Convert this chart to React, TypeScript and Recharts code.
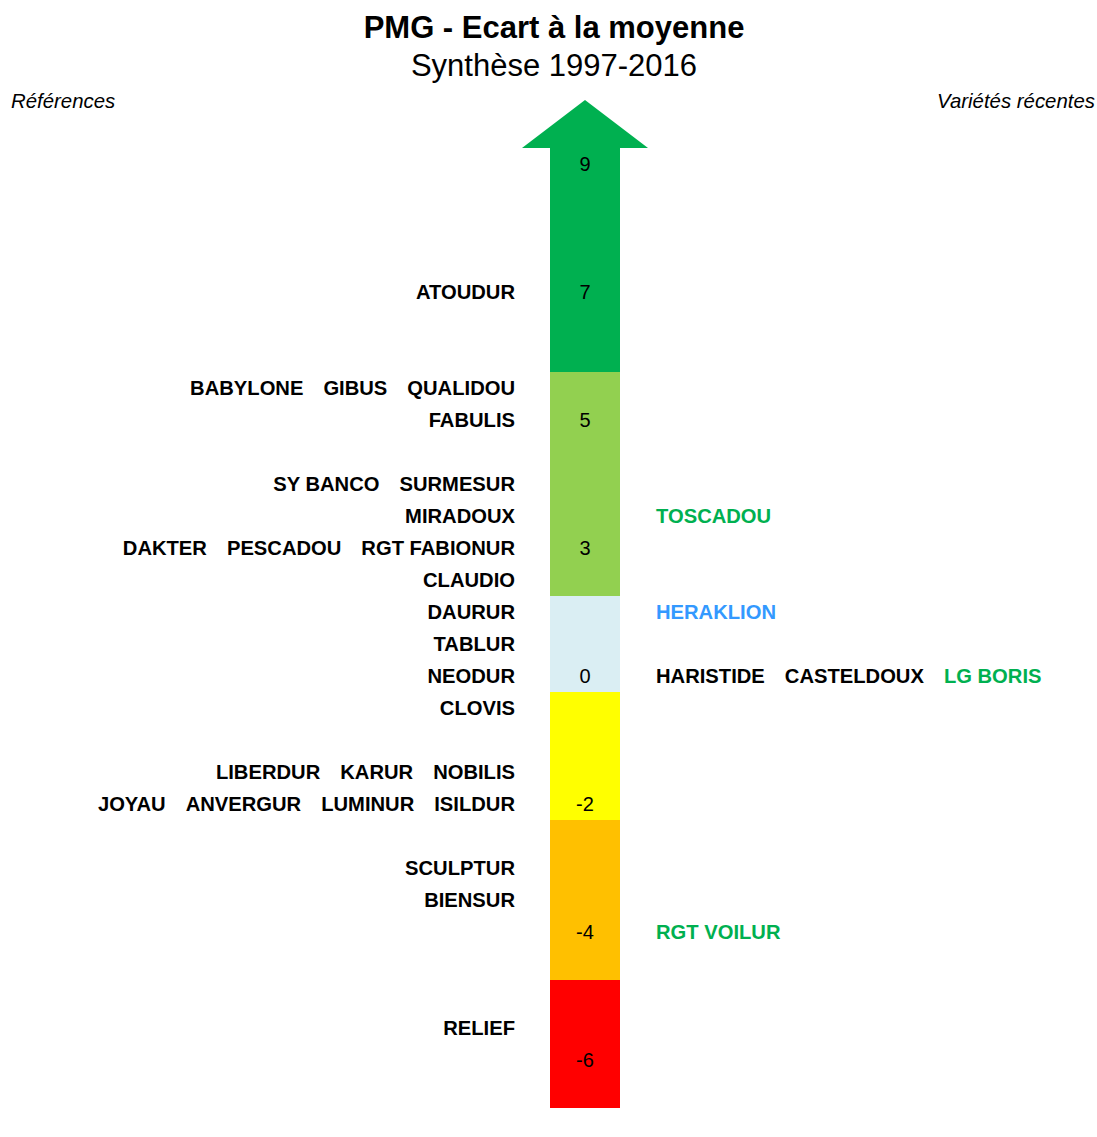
import { ComposedChart, XAxis, YAxis, ReferenceArea, ReferenceDot } from "recharts";

// rows on the scale: 0 = "0" line, one row per step of the table
const bands = [
  { from: 9.5, to: 16.5, color: "#00B050" },
  { from: 2.5, to: 9.5, color: "#92D050" },
  { from: -0.5, to: 2.5, color: "#DAEEF3" },
  { from: -4.5, to: -0.5, color: "#FFFF00" },
  { from: -9.5, to: -4.5, color: "#FFC000" },
  { from: -13.5, to: -9.5, color: "#FF0000" },
];
const arrowHead = { from: 16.5, to: 18, color: "#00B050" };

const scaleTicks = [
  { label: "9", row: 16 },
  { label: "7", row: 12 },
  { label: "5", row: 8 },
  { label: "3", row: 4 },
  { label: "0", row: 0 },
  { label: "-2", row: -4 },
  { label: "-4", row: -8 },
  { label: "-6", row: -12 },
];

const references = [
  { row: 12, names: ["ATOUDUR"] },
  { row: 9, names: ["BABYLONE", "GIBUS", "QUALIDOU"] },
  { row: 8, names: ["FABULIS"] },
  { row: 6, names: ["SY BANCO", "SURMESUR"] },
  { row: 5, names: ["MIRADOUX"] },
  { row: 4, names: ["DAKTER", "PESCADOU", "RGT FABIONUR"] },
  { row: 3, names: ["CLAUDIO"] },
  { row: 2, names: ["DAURUR"] },
  { row: 1, names: ["TABLUR"] },
  { row: 0, names: ["NEODUR"] },
  { row: -1, names: ["CLOVIS"] },
  { row: -3, names: ["LIBERDUR", "KARUR", "NOBILIS"] },
  { row: -4, names: ["JOYAU", "ANVERGUR", "LUMINUR", "ISILDUR"] },
  { row: -6, names: ["SCULPTUR"] },
  { row: -7, names: ["BIENSUR"] },
  { row: -11, names: ["RELIEF"] },
];

const BLACK = "#000000";
const GREEN = "#00B050";
const BLUE = "#3399FF";

const recent = [
  { row: 5, names: [{ name: "TOSCADOU", color: GREEN }] },
  { row: 2, names: [{ name: "HERAKLION", color: BLUE }] },
  {
    row: 0,
    names: [
      { name: "HARISTIDE", color: BLACK },
      { name: "CASTELDOUX", color: BLACK },
      { name: "LG BORIS", color: GREEN },
    ],
  },
  { row: -8, names: [{ name: "RGT VOILUR", color: GREEN }] },
];

const W = 1097;
const H = 1137;
const SHAFT_X1 = 550;
const SHAFT_X2 = 620;
const HEAD_X1 = 522;
const HEAD_X2 = 648;
const CENTER_X = 585;
const LEFT_X = 515;
const RIGHT_X = 656;
const GAP = 20;
const LABEL_SIZE = 20.2;
const FONT = "'Liberation Sans', Arial, sans-serif";

export default function App() {
  return (
    <div style={{ position: "absolute", left: 0, top: 0, width: W, height: H, fontFamily: FONT }}>
      <div style={{ position: "absolute", left: 554, top: 10, transform: "translateX(-50%)", fontSize: 31, fontWeight: "bold", whiteSpace: "nowrap", lineHeight: "36px" }}>
        PMG - Ecart à la moyenne
      </div>
      <div style={{ position: "absolute", left: 554, top: 48, transform: "translateX(-50%)", fontSize: 31, whiteSpace: "nowrap", lineHeight: "36px" }}>
        Synthèse 1997-2016
      </div>
      <div style={{ position: "absolute", left: 11, top: 88, fontSize: 20.4, fontStyle: "italic", whiteSpace: "nowrap", lineHeight: "26px" }}>
        Références
      </div>
      <div style={{ position: "absolute", right: 2, top: 88, fontSize: 20.4, fontStyle: "italic", whiteSpace: "nowrap", lineHeight: "26px" }}>
        Variétés récentes
      </div>
      <ComposedChart width={W} height={H} margin={{ top: 4, right: 0, bottom: 13, left: 0 }} data={[]}>
        <XAxis type="number" dataKey="x" domain={[0, W]} hide allowDataOverflow />
        <YAxis type="number" dataKey="y" domain={[-14, 21]} hide allowDataOverflow />
        {bands.map((b, i) => (
          <ReferenceArea key={i} x1={SHAFT_X1} x2={SHAFT_X2} y1={b.from} y2={b.to} fill={b.color} fillOpacity={1} stroke="none" />
        ))}
        <ReferenceArea
          x1={HEAD_X1}
          x2={HEAD_X2}
          y1={arrowHead.from}
          y2={arrowHead.to}
          fill={arrowHead.color}
          fillOpacity={1}
          stroke="none"
          shape={(p: any) => (
            <polygon
              points={`${p.x + p.width / 2},${p.y} ${p.x},${p.y + p.height} ${p.x + p.width},${p.y + p.height}`}
              fill={arrowHead.color}
            />
          )}
        />
        {scaleTicks.map((t) => (
          <ReferenceDot
            key={t.label}
            x={CENTER_X}
            y={t.row}
            r={0}
            shape={(p: any) => (
              <text x={p.cx} y={p.cy} dy="0.35em" textAnchor="middle" fontSize={20} fontFamily={FONT} fill="#000">
                {t.label}
              </text>
            )}
          />
        ))}
        {references.map((r) => (
          <ReferenceDot
            key={r.row}
            x={LEFT_X}
            y={r.row}
            r={0}
            shape={(p: any) => (
              <text x={p.cx} y={p.cy} dy="0.35em" textAnchor="end" fontSize={LABEL_SIZE} fontWeight="bold" fontFamily={FONT} fill="#000">
                {r.names.map((n, i) => (
                  <tspan key={n} dx={i === 0 ? 0 : GAP}>
                    {n}
                  </tspan>
                ))}
              </text>
            )}
          />
        ))}
        {recent.map((r) => (
          <ReferenceDot
            key={r.row}
            x={RIGHT_X}
            y={r.row}
            r={0}
            shape={(p: any) => (
              <text x={p.cx} y={p.cy} dy="0.35em" textAnchor="start" fontSize={LABEL_SIZE} fontWeight="bold" fontFamily={FONT}>
                {r.names.map((n, i) => (
                  <tspan key={n.name} dx={i === 0 ? 0 : GAP} fill={n.color}>
                    {n.name}
                  </tspan>
                ))}
              </text>
            )}
          />
        ))}
      </ComposedChart>
    </div>
  );
}
